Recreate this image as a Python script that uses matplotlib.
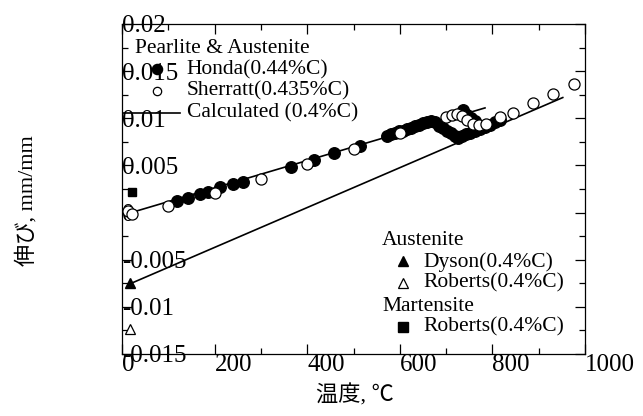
import matplotlib
matplotlib.use("Agg")
import matplotlib.pyplot as plt
from matplotlib.ticker import MultipleLocator

plt.rcParams['font.family'] = ['Liberation Serif', 'Noto Sans CJK JP']
plt.rcParams['axes.unicode_minus'] = False

# ---- data ----
honda_T = [119, 143, 168, 186, 212, 240, 261, 365, 415, 458, 514,
           572, 581, 590, 598, 607, 616, 624, 633, 641, 650, 659, 667,
           676, 685, 693, 702, 711, 719, 726,
           734, 743, 752, 762, 773, 784, 795, 806, 816,
           737, 745, 754, 762]
honda_s = [0.00127, 0.0015, 0.0020, 0.0022, 0.0027, 0.0030, 0.0032, 0.0048, 0.0056, 0.0063, 0.0071,
           0.0081, 0.0083, 0.0084, 0.0086, 0.0087, 0.0089, 0.0090, 0.0092, 0.0093, 0.0095, 0.0096, 0.0097,
           0.0096, 0.0092, 0.0090, 0.0087, 0.0084, 0.0081, 0.0079,
           0.0081, 0.0083, 0.0084, 0.0087, 0.0089, 0.0091, 0.0093, 0.0096, 0.0098,
           0.0109, 0.0104, 0.0100, 0.0097]

sherratt_T = [12, 22, 99, 201, 300, 400, 501, 600, 700, 713, 724, 734, 745, 758, 771, 786,
              816, 844, 888, 931, 976]
sherratt_s = [0.0002, -0.0001, 0.00074, 0.0021, 0.0036, 0.0051, 0.0067, 0.0084, 0.0101, 0.0103,
              0.0105, 0.0102, 0.0098, 0.0094, 0.0093, 0.0094, 0.0101, 0.0106, 0.0116, 0.0126, 0.0136]

calc_pa_T = [20, 784]
calc_pa_s = [0.0, 0.0111]
calc_aus_T = [20, 952]
calc_aus_s = [-0.0075, 0.0122]

dyson_T = [17]
dyson_s = [-0.0075]
roberts_aus_T = [17]
roberts_aus_s = [-0.0124]
roberts_mart_T = [21]
roberts_mart_s = [0.0022]

xticks = [0, 200, 400, 600, 800, 1000]
xticklabels = ['0', '200', '400', '600', '800', '1000']
yticks = [0.02, 0.015, 0.01, 0.005, 0, -0.005, -0.01, -0.015]
yticklabels = ['0.02', '0.015', '0.01', '0.005', '0', '-0.005', '-0.01', '-0.015']

# ---- figure ----
fig = plt.figure(figsize=(6.43, 4.16), dpi=100)
ax = fig.add_axes([122/643, 1-354/416, 463/643, 330/416])

lw = 1.2
ax.plot(calc_pa_T, calc_pa_s, color='black', lw=lw, zorder=2)
ax.plot(calc_aus_T, calc_aus_s, color='black', lw=lw, zorder=2)
ax.plot(honda_T, honda_s, 'o', ms=8.3, mfc='black', mec='black', ls='none', zorder=3)
ax.plot(sherratt_T, sherratt_s, 'o', ms=8.0, mfc='white', mec='black', mew=0.9, ls='none', zorder=4)
ax.plot(dyson_T, dyson_s, '^', ms=7.2, mfc='black', mec='black', ls='none', zorder=5)
ax.plot(roberts_aus_T, roberts_aus_s, '^', ms=6.5, mfc='white', mec='black', mew=0.9, ls='none', zorder=5)
ax.plot(roberts_mart_T, roberts_mart_s, 's', ms=6.3, mfc='black', mec='black', ls='none', zorder=5)

ax.set_xlim(0, 1000)
ax.set_ylim(-0.015, 0.02)
ax.set_xticks(xticks)
ax.set_xticklabels(xticklabels)
ax.set_yticks(yticks)
ax.set_yticklabels(yticklabels)
ax.xaxis.set_minor_locator(MultipleLocator(100))
ax.yaxis.set_minor_locator(MultipleLocator(0.0025))

ax.tick_params(which='both', direction='in', top=True, right=True, width=0.9, labelsize=18)
ax.tick_params(which='major', length=7)
ax.tick_params(which='minor', length=4.3)
ax.tick_params(axis='y', which='major', pad=0)
ax.tick_params(axis='x', which='major', pad=0)
for lab in ax.get_yticklabels():
    lab.set_ha('left')
for lab in ax.get_xticklabels():
    lab.set_ha('left')
for sp in ax.spines.values():
    sp.set_linewidth(0.9)

# legend texts
fs = 15.5
ax.text(0.028, 0.927, 'Pearlite & Austenite', transform=ax.transAxes, fontsize=fs, va='center', ha='left')
ax.plot([0.0756], [0.864], 'o', ms=7.3, mfc='black', mec='black', transform=ax.transAxes, clip_on=False)
ax.text(0.140, 0.862, 'Honda(0.44%C)', transform=ax.transAxes, fontsize=fs, va='center', ha='left')
ax.plot([0.0756], [0.797], 'o', ms=6, mfc='white', mec='black', mew=0.9, transform=ax.transAxes, clip_on=False)
ax.text(0.140, 0.797, 'Sherratt(0.435%C)', transform=ax.transAxes, fontsize=fs, va='center', ha='left')
ax.plot([0.003, 0.125], [0.730, 0.730], color='black', lw=lw, transform=ax.transAxes)
ax.text(0.140, 0.730, 'Calculated (0.4%C)', transform=ax.transAxes, fontsize=fs, va='center', ha='left')

ax.text(0.562, 0.345, 'Austenite', transform=ax.transAxes, fontsize=fs, va='center', ha='left')
ax.plot([0.607], [0.282], '^', ms=7.5, mfc='black', mec='black', transform=ax.transAxes)
ax.text(0.650, 0.279, 'Dyson(0.4%C)', transform=ax.transAxes, fontsize=fs, va='center', ha='left')
ax.plot([0.607], [0.215], '^', ms=6.5, mfc='white', mec='black', mew=0.9, transform=ax.transAxes)
ax.text(0.650, 0.215, 'Roberts(0.4%C)', transform=ax.transAxes, fontsize=fs, va='center', ha='left')
ax.text(0.562, 0.145, 'Martensite', transform=ax.transAxes, fontsize=fs, va='center', ha='left')
ax.plot([0.607], [0.082], 's', ms=7, mfc='black', mec='black', transform=ax.transAxes)
ax.text(0.650, 0.082, 'Roberts(0.4%C)', transform=ax.transAxes, fontsize=fs, va='center', ha='left')

fig.text(355/643, 1-395/416, '温度, ℃', fontsize=16, ha='center', va='center')
fig.text(27/643, 1-201/416, '伸び, mm/mm', fontsize=16, ha='center', va='center', rotation=90)

fig.savefig('out.png', dpi=100)
